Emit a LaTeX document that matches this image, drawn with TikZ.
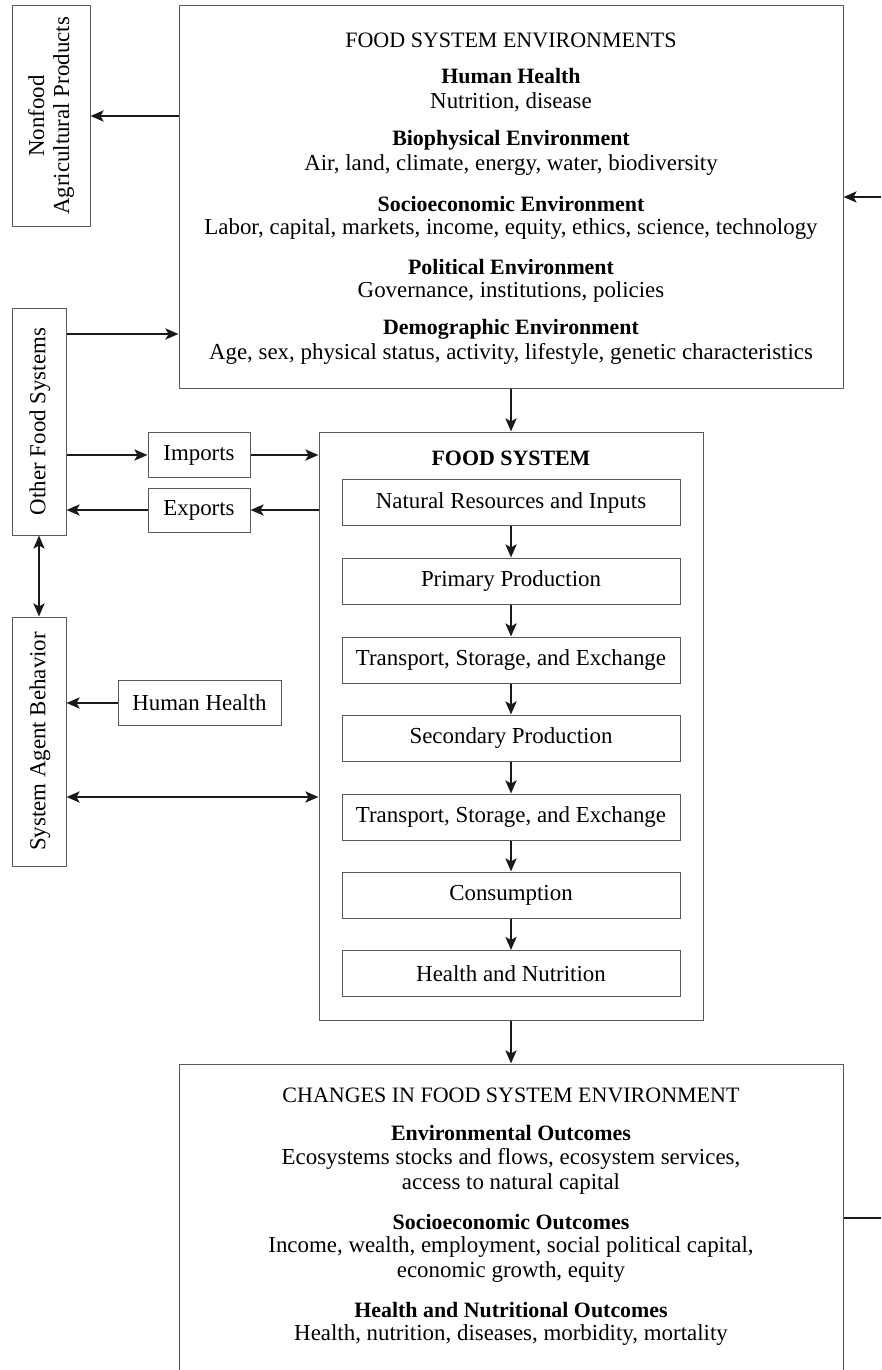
\documentclass[tikz,border=0pt]{standalone}
\usepackage{fontspec}
\setmainfont{Liberation Serif}
\usetikzlibrary{arrows.meta}
\begin{document}
\begin{tikzpicture}[x=1pt,y=-1pt,
  box/.style={draw=black!65, line width=1pt, inner sep=0pt, fill=white},
  txt/.style={inner sep=0pt, font=\fontsize{22.9}{25}\selectfont, align=center},
  head/.style={inner sep=0pt, font=\fontsize{21.9}{25}\selectfont\bfseries, align=center},
  ttl/.style={inner sep=0pt, font=\fontsize{22}{25}\selectfont, align=center},
  arr/.style={draw=black!90, line width=2.6pt, -{Stealth[length=13pt,width=11pt,inset=3pt]}},
  darr/.style={draw=black!90, line width=2.6pt, {Stealth[length=13pt,width=11pt,inset=3pt]}-{Stealth[length=13pt,width=11pt,inset=3pt]}},
  ln/.style={draw=black!90, line width=2.6pt}
]
\useasboundingbox (0,0) rectangle (881,1370);

% big boxes
\node[box, minimum width=664pt, minimum height=382pt] (top) at (511,197) {};
\node[box, minimum width=384pt, minimum height=588pt] (fs) at (511,726) {};
\node[box, minimum width=664pt, minimum height=308pt] (bot) at (511,1218) {};

% left boxes
\node[box, minimum width=78pt, minimum height=220pt] (nonfood) at (51,116) {};
\node[txt, rotate=90] (nonfoodt) at (51,116) {Nonfood\\Agricultural Products};
\node[box, minimum width=54pt, minimum height=227pt] (ofs) at (39,421.5) {};
\node[txt, rotate=90] (ofst) at (40,421.5) {Other Food Systems};
\node[box, minimum width=54pt, minimum height=249pt] (sab) at (39,741.5) {};
\node[txt, rotate=90] (sabt) at (40,741.5) {System Agent Behavior};
\node[box, minimum width=102pt, minimum height=45pt] (imp) at (199,455) {};
\node[txt] (impt) at (199,455) {Imports};
\node[box, minimum width=102pt, minimum height=44pt] (exp) at (199,510) {};
\node[txt] (expt) at (199,510) {Exports};
\node[box, minimum width=163pt, minimum height=45pt] (hh) at (199.5,703) {};
\node[txt] (hht) at (199.5,703) {Human Health};

% top box text
\node[ttl] (t0) at (511,40) {FOOD SYSTEM ENVIRONMENTS};
\node[head] (t1) at (511,76) {Human Health};
\node[txt] (t1b) at (511,102) {Nutrition, disease};
\node[head] (t2) at (511,140) {Biophysical Environment};
\node[txt] (t2b) at (511,165) {Air, land, climate, energy, water, biodiversity};
\node[head] (t3) at (511,204) {Socioeconomic Environment};
\node[txt] (t3b) at (511,229) {Labor, capital, markets, income, equity, ethics, science, technology};
\node[head] (t4) at (511,267) {Political Environment};
\node[txt] (t4b) at (511,292) {Governance, institutions, policies};
\node[head] (t5) at (511,329) {Demographic Environment};
\node[txt] (t5b) at (511,354) {Age, sex, physical status, activity, lifestyle, genetic characteristics};

% food system
\node[head] (fst) at (511,458) {FOOD SYSTEM};
\foreach \n/\y/\t in {s1/502.5/Natural Resources and Inputs,
                      s2/581/Primary Production,
                      s3/660/{Transport, Storage, and Exchange},
                      s4/738/Secondary Production,
                      s5/817/{Transport, Storage, and Exchange},
                      s6/895/Consumption,
                      s7/973.5/Health and Nutrition}{
  \node[box, minimum width=338pt, minimum height=46pt] (\n) at (511,\y) {};
  \node[txt] (\n t) at (511,\y) {\t};
}
\foreach \a/\b in {s1/s2,s2/s3,s3/s4,s4/s5,s5/s6,s6/s7}{
  \draw[arr] (\a.south) -- (\b.north);
}

% bottom box text
\node[ttl] (b0) at (511,1095) {CHANGES IN FOOD SYSTEM ENVIRONMENT};
\node[head] (b1) at (511,1133) {Environmental Outcomes};
\node[txt] (b1b) at (511,1171) {Ecosystems stocks and flows, ecosystem services,\\access to natural capital};
\node[head] (b2) at (511,1222) {Socioeconomic Outcomes};
\node[txt] (b2b) at (511,1259.5) {Income, wealth, employment, social political capital,\\economic growth, equity};
\node[head] (b3) at (511,1310) {Health and Nutritional Outcomes};
\node[txt] (b3b) at (511,1335) {Health, nutrition, diseases, morbidity, mortality};

% connectors
\coordinate (c1) at (0,334);
\coordinate (c2) at (0,797);
\coordinate (r1) at (881,197);
\coordinate (r2) at (881,1218);
\draw[arr] (top.west |- nonfood.east) -- (nonfood.east);
\draw[arr] (ofs.east |- c1) -- (top.west |- c1);
\draw[arr] (ofs.east |- imp.west) -- (imp.west);
\draw[arr] (imp.east) -- (imp.east -| fs.west);
\draw[arr] (exp.east -| fs.west) -- (exp.east);
\draw[arr] (exp.west) -- (exp.west -| ofs.east);
\draw[darr] (ofs.south) -- (sab.north);
\draw[arr] (hh.west) -- (hh.west -| sab.east);
\draw[darr] (sab.east |- c2) -- (fs.west |- c2);
\draw[arr] (top.south) -- (fs.north);
\draw[arr] (fs.south) -- (bot.north);
\draw[arr] (r1) -- (top.east);
\draw[ln] (bot.east) -- (r2);
\end{tikzpicture}
\end{document}
